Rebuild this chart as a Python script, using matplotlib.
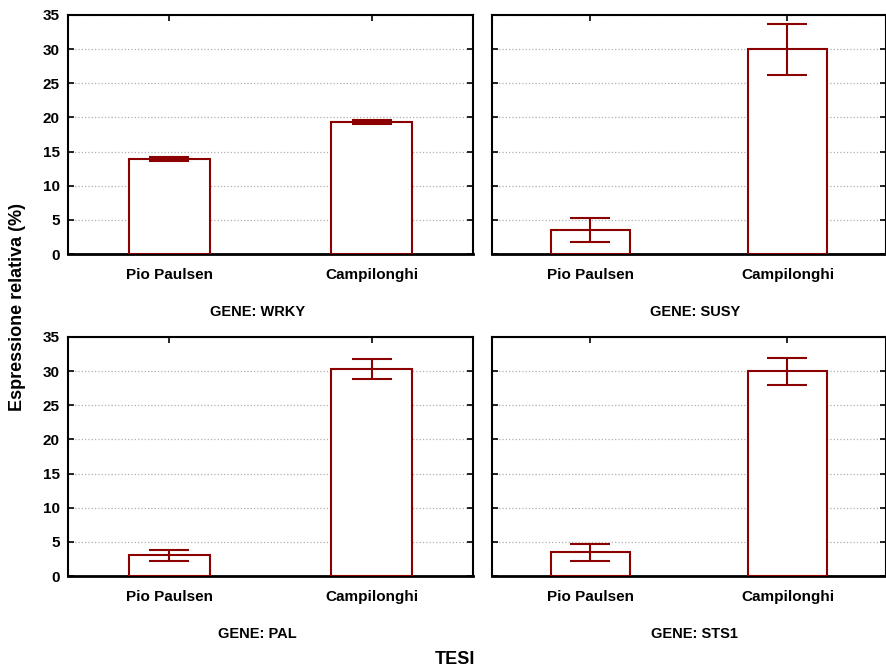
import matplotlib
matplotlib.use("Agg")
import matplotlib.pyplot as plt
import numpy as np

plt.rcParams['font.family'] = ['Liberation Sans', 'DejaVu Sans']
plt.rcParams['font.weight'] = 'bold'

# relative expression (%) per gene, mean and error
tesi = ["Pio Paulsen", "Campilonghi"]
genes = ["WRKY", "SUSY", "PAL", "STS1"]
wrky = [13.95, 19.35]
wrky_err = [0.3, 0.3]
susy = [3.45, 29.95]
susy_err = [1.75, 3.8]
pal = [3.05, 30.3]
pal_err = [0.8, 1.45]
sts1 = [3.45, 29.95]
sts1_err = [1.3, 1.95]

means = [wrky, susy, pal, sts1]
errs = [wrky_err, susy_err, pal_err, sts1_err]

red = "#8b0000"
W, H = 887, 670
fig = plt.figure(figsize=(W / 100, H / 100), dpi=100)

# panel boxes in pixels: left, top, right, bottom
boxes = [(68, 15, 473, 254), (492, 15, 886, 254),
         (68, 337, 473, 576), (492, 337, 886, 576)]

x = np.arange(len(tesi))
for i, (l, t, r, b) in enumerate(boxes):
    ax = fig.add_axes([l / W, 1 - b / H, (r - l) / W, (b - t) / H])
    ax.bar(x, means[i], width=0.4, color="white", edgecolor=red,
           linewidth=1.5, zorder=3)
    ax.errorbar(x, means[i], yerr=errs[i], fmt="none", ecolor=red,
                elinewidth=1.5, capsize=14.5, capthick=1.5, zorder=4)
    ax.set_xlim(-0.5, 1.5)
    ax.set_ylim(0, 35)
    ax.set_yticks(range(0, 36, 5))
    ax.set_xticks(x)
    ax.set_xticklabels(tesi, fontsize=11, fontweight="bold")
    ax.yaxis.grid(True, linestyle=":", color="#b0b0b0", linewidth=0.9, zorder=0)
    ax.tick_params(direction="in", length=4, width=1.2, top=True, right=True,
                   labelsize=11)
    ax.tick_params(axis="x", pad=10)
    ax.tick_params(axis="y", pad=6)
    if i % 2 == 1:
        ax.set_yticklabels([])
    for s in ax.spines.values():
        s.set_linewidth(1.5)
    ax.spines["bottom"].set_linewidth(2)
    ax.set_xlabel("GENE: " + genes[i], fontsize=10.5, fontweight="bold")
    # caption sits under the panel block, slightly off the axes centre
    ax.xaxis.set_label_coords(0.467 if i % 2 == 0 else 0.515, -0.213)

fig.text(18 / W, 1 - 307 / H, "Espressione relativa (%)", rotation=90,
         ha="center", va="center", fontsize=13, fontweight="bold")
fig.text(455 / W, 1 - 660 / H, "TESI", ha="center", va="center",
         fontsize=13, fontweight="bold")

fig.savefig("out.png", dpi=100)
